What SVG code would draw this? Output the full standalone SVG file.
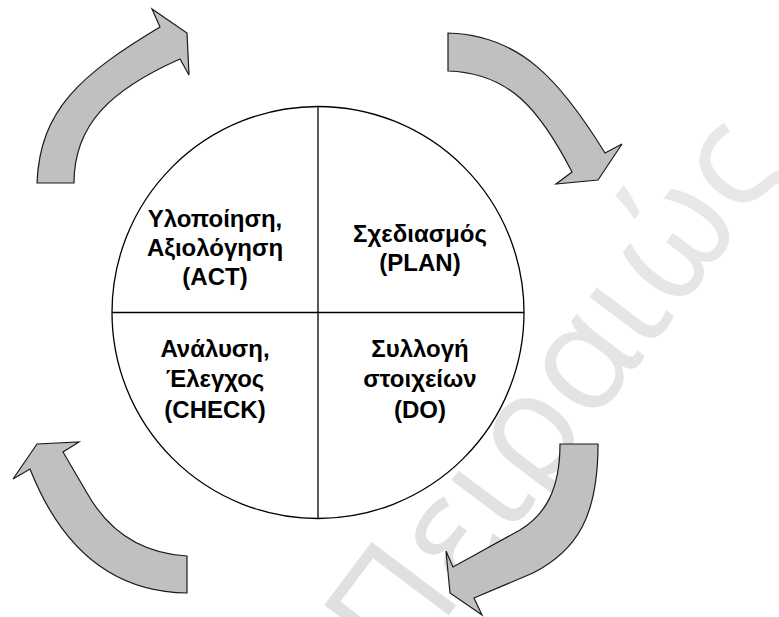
<svg xmlns="http://www.w3.org/2000/svg" width="779" height="617" viewBox="0 0 779 617">
  <defs>
    <linearGradient id="wmFill" gradientUnits="userSpaceOnUse" x1="340" y1="617" x2="779" y2="130">
      <stop offset="0" stop-color="#d8d8d8"/>
      <stop offset="1" stop-color="#e8e8e8"/>
    </linearGradient>
  </defs>
  <style>
    .arrow { fill: #c0c0c0; stroke: #1a1a1a; stroke-width: 1.2; stroke-linejoin: miter; }
    .ring { fill: none; stroke: #000; stroke-width: 1.3; }
    .label { font-family: "Liberation Sans", Arial, sans-serif; font-weight: bold; font-size: 24px; fill: #000; text-anchor: middle; }
    .wm { font-family: "Open Sans", "DejaVu Sans", sans-serif; font-size: 148px; fill: url(#wmFill); }
  </style>

  <rect width="779" height="617" fill="#fff"/>

  <!-- background watermark -->
  <g id="watermark">
    <text class="wm" transform="translate(400,680) rotate(-53)" x="0" y="0">Πειραιώς</text>
  </g>

  <!-- cycle arrows -->
  <g id="connectors">
    <path id="arrow-act-plan" class="arrow" d="M37,183 C40,110 80,75 160,27 L152,9 L187,33 L189,75 L180,59 C110,90 74,125 74,183 Z"/>
    <path id="arrow-plan-do" class="arrow" d="M448,33 C520,35 560,80 605,153 L622,144 L598,180 L556,184 L572,172 C540,110 510,73 448,71 Z"/>
    <path id="arrow-do-check" class="arrow" d="M560,444 L598,444 C598,515 578,550 533,573 L474,598 L482,615 L450,593 L446,551 L453,567 L520,530 C545,515 560,490 560,444 Z"/>
    <path id="arrow-check-act" class="arrow" d="M187,556 L187,593 C110,592 60,545 30,469 L13,479 L37,444 L79,442 L63,452 L87,493 C105,525 135,553 187,556 Z"/>
  </g>

  <!-- quartered circle -->
  <g id="cycle">
    <circle class="ring" cx="318" cy="312.5" r="206"/>
    <line class="ring" x1="318" y1="106.5" x2="318" y2="518.5"/>
    <line class="ring" x1="112" y1="312.5" x2="524" y2="312.5"/>
  </g>

  <g id="node-act">
    <text class="label" x="215" y="227">Υλοποίηση,</text>
    <text class="label" x="215" y="256">Αξιολόγηση</text>
    <text class="label" x="215" y="285">(ACT)</text>
  </g>

  <g id="node-plan">
    <text class="label" x="420" y="242">Σχεδιασμός</text>
    <text class="label" x="420" y="271">(PLAN)</text>
  </g>

  <g id="node-check">
    <text class="label" x="215" y="357">Ανάλυση,</text>
    <text class="label" x="215" y="387">Έλεγχος</text>
    <text class="label" x="215" y="418">(CHECK)</text>
  </g>

  <g id="node-do">
    <text class="label" x="420" y="357">Συλλογή</text>
    <text class="label" x="420" y="387">στοιχείων</text>
    <text class="label" x="420" y="418">(DO)</text>
  </g>
</svg>
